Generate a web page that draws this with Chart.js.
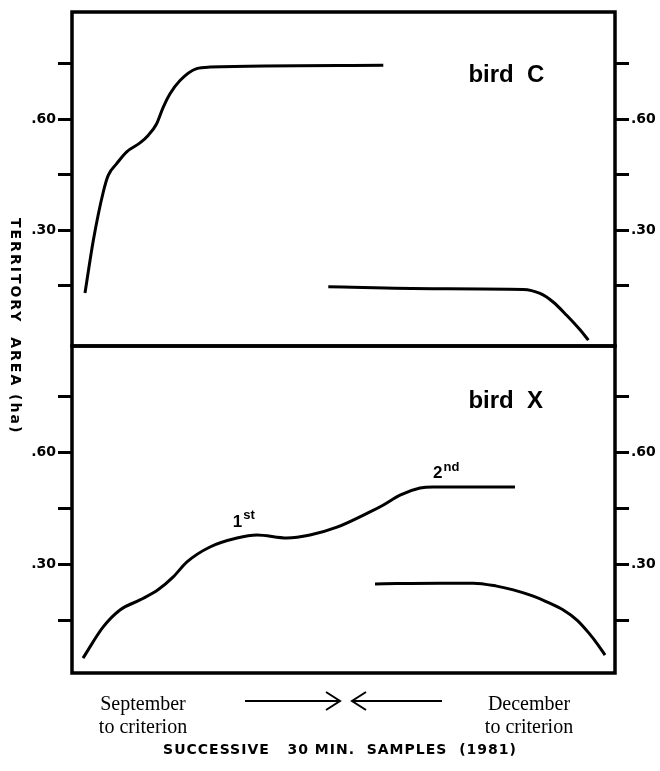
<!DOCTYPE html>
<html>
<head>
<meta charset="utf-8">
<script src="https://cdn.jsdelivr.net/npm/chart.js@4"></script>
<style>
body{margin:0;background:#fff;width:660px;height:771px;position:relative;overflow:hidden;font-family:"Liberation Sans",Arial,sans-serif;color:#000;}
.wrap{position:absolute;left:0;width:660px;}
#wrapC{top:0;height:358px;}
#wrapX{top:334px;height:351px;}
.ytitle{position:absolute;left:8px;top:218px;writing-mode:vertical-rl;font-family:"DejaVu Sans",sans-serif;font-weight:bold;font-size:14px;letter-spacing:2px;white-space:pre;}
.month{position:absolute;width:160px;font-family:"Liberation Serif","Times New Roman",serif;font-size:20px;text-align:center;line-height:23px;}
.xtitle{position:absolute;left:0;width:680px;top:741px;text-align:center;font-family:"DejaVu Sans",sans-serif;font-weight:bold;font-size:14px;letter-spacing:1px;white-space:pre;}
svg{position:absolute;left:0;top:0;}
</style>
</head>
<body>
<div class="wrap" id="wrapC"><canvas id="chartC" width="660" height="358"></canvas></div>
<div class="wrap" id="wrapX"><canvas id="chartX" width="660" height="351"></canvas></div>
<div class="ytitle">TERRITORY  AREA (ha)</div>
<svg width="660" height="771">
  <g stroke="#000" stroke-width="2" fill="none">
    <line x1="245" y1="701" x2="340" y2="701"/>
    <polyline points="326,692 340,701 326,710"/>
    <line x1="352" y1="701" x2="442" y2="701"/>
    <polyline points="366,692 352,701 366,710"/>
  </g>
</svg>
<div class="month" style="left:63px;top:692px;">September<br>to criterion</div>
<div class="month" style="left:449px;top:692px;">December<br>to criterion</div>
<div class="xtitle">SUCCESSIVE   30 MIN.  SAMPLES  (1981)</div>
<script>
// bird C
const birdC_sepX = [2.39, 3.93, 5.77, 6.69, 8.23, 10.07, 12.52, 14.06, 15.59, 16.81, 18.05, 19.89, 22.96, 25.41, 57.33];
const birdC_sepY = [0.130, 0.273, 0.404, 0.449, 0.480, 0.512, 0.536, 0.557, 0.588, 0.633, 0.669, 0.705, 0.737, 0.741, 0.746];
const birdC_decX = [47.2, 66.5, 83.1, 86.2, 88.6, 91.1, 93.6, 95.1];
const birdC_decY = [0.147, 0.142, 0.140, 0.129, 0.106, 0.070, 0.030, 0.003];

// bird X
const birdX_sepX = [2.03, 5.71, 8.84, 12.52, 15.84, 18.60, 21.18, 25.41, 30.39, 34.07, 39.59, 43.83, 48.80, 54.88, 57.27, 60.41, 64.09, 66.48, 81.58];
const birdX_sepY = [0.048, 0.131, 0.177, 0.204, 0.231, 0.265, 0.306, 0.346, 0.370, 0.378, 0.370, 0.378, 0.399, 0.440, 0.458, 0.485, 0.504, 0.507, 0.507];
const birdX_decX = [55.80, 67.77, 73.91, 78.21, 81.27, 84.95, 87.42, 90.48, 93.00, 95.20, 96.80, 98.16];
const birdX_decY = [0.247, 0.249, 0.249, 0.241, 0.231, 0.214, 0.199, 0.177, 0.150, 0.115, 0.085, 0.056];

// y ticks (ha)
const tickValues = [0.15, 0.30, 0.45, 0.60, 0.75];
const tickLabels = ['', '.30', '', '.60', ''];

const pts = (xs, ys) => xs.map((x, i) => ({x: x, y: ys[i]}));
const tickFont = {family: '"DejaVu Sans", sans-serif', size: 14, weight: 'bold'};

// box round the plot area + text notes
const boxPlugin = {
  id: 'box',
  afterDraw(chart, args, opts) {
    const {ctx, chartArea: a, scales} = chart;
    ctx.save();
    ctx.strokeStyle = '#000';
    ctx.lineWidth = 3.5;
    ctx.strokeRect(a.left, a.top, a.right - a.left, a.bottom - a.top);
    ctx.fillStyle = '#000';
    ctx.textBaseline = 'alphabetic';
    (opts.notes || []).forEach(n => {
      const px = scales.x.getPixelForValue(n.x), py = scales.y.getPixelForValue(n.y);
      ctx.font = 'bold ' + n.size + 'px "Liberation Sans", Arial, sans-serif';
      ctx.fillText(n.text, px, py);
      if (n.sup) {
        const w = ctx.measureText(n.text).width;
        ctx.font = 'bold ' + Math.round(n.size * 0.75) + 'px "Liberation Sans", Arial, sans-serif';
        ctx.fillText(n.sup, px + w + 1, py - n.size * 0.45);
      }
    });
    ctx.restore();
  }
};

function yAxis(pos, yMin, yMax, w) {
  return {
    type: 'linear', position: pos, min: yMin, max: yMax,
    border: {display: false},
    grid: {drawOnChartArea: false, drawTicks: true, tickLength: 14, tickWidth: 3, tickColor: '#000'},
    ticks: {color: '#000', font: tickFont, padding: 2, callback: (v) => tickLabels[tickValues.indexOf(+v.toFixed(2))] || ''},
    afterBuildTicks: s => { s.ticks = tickValues.map(v => ({value: v})); },
    afterFit: s => { s.width = w; }
  };
}

function makeChart(id, sep, dec, yMin, yMax, pad, notes) {
  const line = (data) => ({data: data, borderColor: '#000', borderWidth: 3, pointRadius: 0, fill: false, cubicInterpolationMode: 'monotone'});
  return new Chart(document.getElementById(id), {
    type: 'line',
    data: {datasets: [line(sep), line(dec)]},
    options: {
      responsive: false, animation: false,
      layout: {padding: pad},
      plugins: {legend: {display: false}, tooltip: {enabled: false}, box: {notes: notes}},
      scales: {
        x: {type: 'linear', min: 0, max: 100, display: false},
        y: yAxis('left', yMin, yMax, 72),
        y2: yAxis('right', yMin, yMax, 45)
      }
    },
    plugins: [boxPlugin]
  });
}

makeChart('chartC', pts(birdC_sepX, birdC_sepY), pts(birdC_decX, birdC_decY), -0.013, 0.89,
  {top: 12, bottom: 12, left: 0, right: 0},
  [{text: 'bird  C', x: 73, y: 0.70, size: 24}]);

makeChart('chartX', pts(birdX_sepX, birdX_sepY), pts(birdX_decX, birdX_decY), 0.008, 0.885,
  {top: 12, bottom: 12, left: 0, right: 0},
  [{text: 'bird  X', x: 73, y: 0.72, size: 24},
   {text: '1', x: 29.6, y: 0.40, size: 17, sup: 'st'},
   {text: '2', x: 66.5, y: 0.53, size: 17, sup: 'nd'}]);
</script>
</body>
</html>
